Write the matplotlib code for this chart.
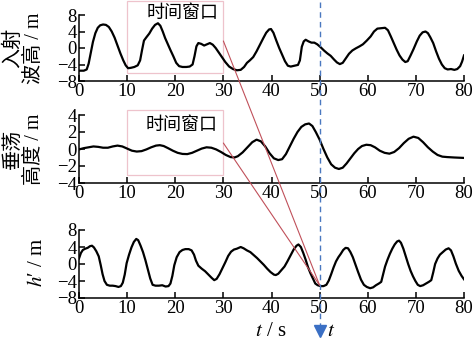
import matplotlib
matplotlib.use("Agg")
import matplotlib.pyplot as plt
import matplotlib.transforms as mtransforms
from matplotlib.patches import Rectangle, ConnectionPatch
from matplotlib.lines import Line2D

plt.rcParams['font.family'] = ['Liberation Serif', 'Noto Sans CJK SC']
plt.rcParams['mathtext.fontset'] = 'stix'
plt.rcParams['axes.unicode_minus'] = True

# incident wave height
t_wave = [0, 1.0, 1.6, 2.0, 2.4, 2.9, 3.4, 3.9, 4.4, 5.0, 5.6, 6.2, 6.8, 7.4, 8.0, 8.6, 9.2,
          9.7, 10.2, 10.8, 11.5, 12.2, 12.7, 13.1, 13.5, 14.0, 14.6, 15.2, 15.8, 16.4, 16.9,
          17.4, 17.9, 18.5, 19.0, 19.6, 20.2, 20.8, 21.5, 22.3, 23.0, 23.6, 24.0, 24.4, 24.8,
          25.4, 26.0, 26.6, 27.2, 27.8, 28.4, 29.0, 29.7, 30.4, 31.2, 32.0, 32.8, 33.6, 34.3,
          34.9, 35.5, 36.2, 36.9, 37.6, 38.3, 38.9, 39.5, 39.9, 40.4, 41.0, 41.6, 42.2, 42.8,
          43.4, 44.0, 44.8, 45.5, 45.9, 46.3, 46.7, 47.1, 47.7, 48.3, 48.9, 49.5, 50.2, 50.9,
          51.6, 52.3, 53.0, 53.6, 54.2, 54.8, 55.4, 56.1, 56.8, 57.5, 58.3, 59.0, 59.8, 60.6,
          61.3, 62.0, 62.8, 63.6, 64.2, 64.8, 65.4, 66.0, 66.6, 67.2, 67.8, 68.3, 68.9, 69.5,
          70.2, 70.8, 71.4, 72.0, 72.5, 73.0, 73.6, 74.2, 74.8, 75.4, 76.0, 76.6, 77.3, 78.0,
          78.6, 79.2, 79.6, 80.0]
wave = [-5.5, -5.5, -5.2, -3.8, -1.5, 1.5, 3.6, 4.9, 5.5, 5.7, 5.6, 5.1, 4.0, 2.5, 0.6, -1.3,
        -3.0, -4.2, -4.9, -4.8, -4.6, -4.2, -3.0, -0.5, 1.8, 2.6, 3.5, 4.7, 5.6, 6.0, 5.4,
        4.0, 2.4, 0.8, -0.5, -2.0, -3.6, -4.4, -4.6, -4.6, -4.5, -4.0, -2.0, 0.4, 1.2,
        1.0, 0.6, 0.9, 1.2, 0.8, 0.0, -1.0, -2.2, -3.4, -4.5, -5.1, -5.4, -5.3, -4.6,
        -3.6, -3.0, -2.2, -0.8, 0.8, 2.4, 3.7, 4.5, 4.6, 3.7, 1.8, 0.0, -1.6, -3.2,
        -4.3, -4.5, -4.3, -4.1, -3.0, 0.3, 1.6, 2.0, 1.6, 1.3, 1.3, 0.9, 0.2, -0.6,
        -1.3, -1.9, -2.8, -3.5, -3.9, -3.6, -2.6, -1.4, -0.6, -0.1, 0.4, 0.9, 1.8, 2.8,
        4.0, 4.7, 4.8, 4.9, 4.3, 2.8, 1.2, -0.4, -1.8, -2.8, -3.4, -3.2, -1.8, -0.3,
        1.6, 3.0, 3.8, 4.0, 3.6, 2.6, 1.2, -0.8, -2.6, -4.0, -4.9, -5.2, -5.1, -5.3,
        -5.1, -4.4, -3.3, -1.8]

# heave height
t_heave = [0, 1, 2, 3, 4, 5, 6, 7, 8, 9, 10, 11, 12, 13, 14, 15, 16, 16.8, 17.6, 18.5, 19.5,
           20.5, 21.5, 22.5, 23.5, 24.5, 25.5, 26.5, 27.5, 28.5, 29.5, 30.5, 31.5, 32.3, 33.0,
           34.0, 35.0, 36.0, 36.9, 37.8, 38.7, 39.6, 40.5, 41.4, 42.2, 43.0, 43.8, 44.6, 45.4,
           46.2, 47.0, 47.8, 48.5, 49.2, 50.0, 50.8, 51.6, 52.4, 53.2, 54.0, 54.8, 55.6, 56.4,
           57.2, 58.0, 58.8, 59.7, 60.6, 61.5, 62.5, 63.5, 64.5, 65.5, 66.5, 67.5, 68.5, 69.5,
           70.5, 71.5, 72.5, 73.5, 74.5, 75.5, 76.5, 78.0, 80.0]
heave = [-0.05, 0.1, 0.2, 0.3, 0.25, 0.15, 0.15, 0.3, 0.4, 0.3, 0.05, -0.2, -0.3, -0.25, -0.05,
         0.2, 0.4, 0.45, 0.35, 0.1, -0.2, -0.45, -0.58, -0.6, -0.45, -0.2, 0.05, 0.2, 0.15,
         -0.05, -0.35, -0.7, -0.95, -1.0, -0.85, -0.4, 0.2, 0.8, 1.1, 0.9, 0.3, -0.5, -1.1,
         -1.3, -1.2, -0.6, 0.3, 1.2, 2.0, 2.6, 2.9, 3.0, 2.7, 2.0, 1.1, 0.0, -1.0, -1.8,
         -2.2, -2.35, -2.2, -1.7, -1.1, -0.5, 0.0, 0.35, 0.5, 0.45, 0.2, -0.2, -0.45, -0.55,
         -0.35, 0.1, 0.7, 1.2, 1.45, 1.3, 0.8, 0.2, -0.3, -0.7, -0.9, -0.95, -1.0, -1.05]

# h'
t_h = [0, 0.4, 0.8, 1.3, 1.8, 2.3, 2.7, 3.1, 3.6, 4.1, 4.5, 4.9, 5.3, 5.8, 6.4, 7.0, 7.6, 8.2,
       8.7, 9.1, 9.5, 9.9, 10.4, 10.9, 11.4, 11.9, 12.3, 12.8, 13.3, 13.8, 14.3, 14.8, 15.3,
       15.9, 16.6, 17.3, 18.0, 18.6, 19.0, 19.4, 19.8, 20.3, 20.9, 21.5, 22.1, 22.8, 23.4,
       23.9, 24.3, 24.8, 25.5, 26.2, 27.0, 27.6, 28.1, 28.6, 29.2, 29.8, 30.4, 31.0, 31.6,
       32.2, 32.8, 33.6, 34.2, 34.9, 35.6, 36.3, 37.0, 37.7, 38.4, 39.1, 39.8, 40.5, 40.9,
       41.4, 42.0, 42.7, 43.3, 43.9, 44.6, 45.2, 45.6, 46.1, 46.6, 47.1, 47.6, 48.1, 48.6,
       49.1, 49.6, 50.2, 50.8, 51.4, 51.9, 52.4, 52.9, 53.4, 53.9, 54.4, 54.9, 55.4, 55.9,
       56.4, 56.9, 57.4, 58.0, 58.6, 59.2, 59.8, 60.5, 61.1, 61.7, 62.3, 62.8, 63.2, 63.6,
       64.1, 64.6, 65.1, 65.6, 66.1, 66.5, 66.9, 67.4, 67.9, 68.4, 68.9, 69.4, 69.9, 70.4,
       70.9, 71.5, 72.1, 72.7, 73.2, 73.6, 74.0, 74.5, 75.0, 75.6, 76.2, 76.8, 77.3, 77.8,
       78.3, 78.9, 79.5, 80.0]
h = [1.3, 2.6, 3.3, 3.6, 3.8, 4.2, 4.3, 3.9, 3.0, 1.8, -0.2, -2.4, -4.0, -4.9, -5.1, -5.1,
     -5.2, -5.4, -5.2, -4.4, -2.5, 0.2, 2.2, 3.9, 5.2, 5.9, 5.6, 4.3, 2.8, 0.9, -1.2, -3.4,
     -4.9, -5.1, -5.1, -5.0, -5.3, -5.2, -4.6, -2.8, -0.3, 1.6, 2.8, 3.3, 3.5, 3.5, 3.2,
     2.2, 0.8, -0.4, -1.1, -1.7, -2.6, -3.3, -3.8, -3.5, -2.4, -1.0, 0.4, 1.9, 2.9,
     3.4, 3.6, 4.0, 3.7, 3.2, 2.8, 2.1, 1.4, 0.6, -0.2, -1.1, -1.9, -2.5, -2.6,
     -2.3, -1.5, -0.6, 0.6, 1.9, 3.4, 4.3, 4.6, 4.0, 2.6, 1.0, -0.8, -2.2, -3.4,
     -4.6, -5.0, -5.2, -5.2, -4.9, -3.9, -2.4, -0.8, 0.6, 1.6, 2.4, 3.3, 3.8, 3.7,
     2.8, 1.6, 0.0, -1.9, -3.7, -4.9, -5.4, -5.7, -5.5, -5.0, -4.6, -4.2, -2.4, -0.6,
     1.0, 2.4, 3.6, 4.6, 5.3, 5.5, 5.0, 3.6, 1.8, 0.0, -1.6, -2.9, -4.0, -4.9,
     -5.2, -5.0, -4.6, -4.2, -3.8, -2.0, 0.0, 1.3, 2.2, 2.8, 3.4, 3.7, 3.2, 1.8,
     0.1, -1.6, -2.8, -3.6]

xticks = [0, 10, 20, 30, 40, 50, 60, 70, 80]
window = (10, 30)
t_now = 50

W, H = 474, 346
fig = plt.figure(figsize=(W / 100, H / 100), dpi=100)

def px_axes(top, bottom):
    return fig.add_axes([79 / W, 1 - bottom / H, (464 - 79) / W, (bottom - top) / H])

ax1 = px_axes(15, 81)
ax2 = px_axes(115, 183)
ax3 = px_axes(230, 298)

setups = [(ax1, t_wave, wave, (-8, 8), [-8, -4, 0, 4, 8]),
          (ax2, t_heave, heave, (-4, 4), [-4, -2, 0, 2, 4]),
          (ax3, t_h, h, (-8, 8), [-8, -4, 0, 4, 8])]
for ax, x, y, lim, yt in setups:
    ax.plot(x, y, color='black', lw=1.6, solid_joinstyle='round')
    ax.set_xlim(0, 80)
    ax.set_ylim(*lim)
    ax.set_xticks(xticks)
    ax.set_yticks(yt)
    ax.spines['top'].set_visible(False)
    ax.spines['right'].set_visible(False)
    ax.spines['left'].set_linewidth(1.1)
    ax.spines['bottom'].set_linewidth(1.1)
    ax.tick_params(direction='in', length=4, width=1.1, labelsize=13.5, pad=1.5)
    ax.patch.set_alpha(0)

# time windows
pink = '#eec3cc'
ax1.add_patch(Rectangle((window[0], -6.06), window[1] - window[0], 17.4, fill=False,
                        ec=pink, lw=0.9, clip_on=False))
ax1.text(21.6, 8.6, '时间窗口', family=['Noto Sans CJK SC'], fontsize=13,
         ha='center', va='center')
ax2.add_patch(Rectangle((window[0], -3.06), window[1] - window[0], 7.65, fill=False,
                        ec=pink, lw=0.9, clip_on=False))
ax2.text(21.4, 2.8, '时间窗口', family=['Noto Sans CJK SC'], fontsize=13,
         ha='center', va='center')

# red mapping lines
red = '#c0505a'
for ax_from, y_from in [(ax1, 1.7), (ax2, 0.7)]:
    cp = ConnectionPatch((window[1], y_from), (t_now, -5.0), coordsA='data', coordsB='data',
                         axesA=ax_from, axesB=ax3, color=red, lw=0.8)
    fig.add_artist(cp)

# current time marker
trans = mtransforms.blended_transform_factory(ax1.transData, fig.transFigure)
fig.add_artist(Line2D([t_now, t_now], [1 - 2 / H, 1 - 326 / H], transform=trans,
                      color='#4a78c0', lw=1.0, dashes=(4, 3)))
fig.add_artist(Line2D([t_now], [1 - 331 / H], transform=trans, marker='v',
                      markersize=9, color='#3a6fc4', lw=0))
fig.text(327 / W, 1 - 332 / H, '$t$', fontsize=15, ha='left', va='center')
fig.text(271 / W, 1 - 332 / H, '$t$ / s', fontsize=15, ha='center', va='center')

# y labels
cjk = ['Liberation Serif', 'Noto Sans CJK SC']
fig.text(24 / W, 1 - 48 / H, '入射\n波高 / m', rotation=90, ha='center', va='center',
         fontsize=14.5, family=cjk, linespacing=1.1)
fig.text(24 / W, 1 - 149 / H, '垂荡\n高度 / m', rotation=90, ha='center', va='center',
         fontsize=14.5, family=cjk, linespacing=1.1)
fig.text(37 / W, 1 - 262 / H, "$h$′ / m", rotation=90, ha='center', va='center',
         fontsize=15)

fig.savefig('out.png', dpi=100)
